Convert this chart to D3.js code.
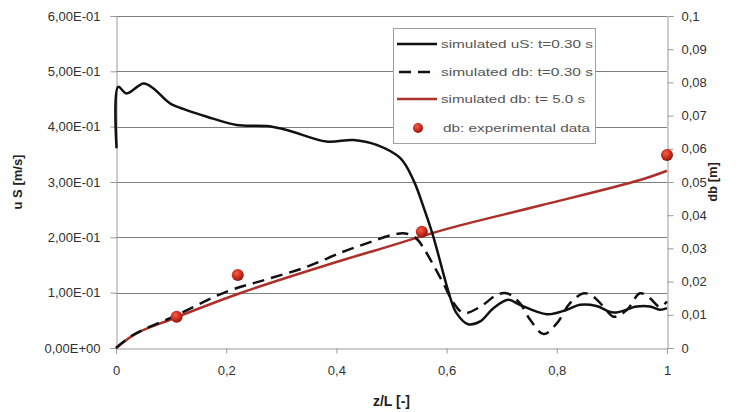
<!DOCTYPE html>
<html>
<head>
<meta charset="utf-8">
<title>uS and db along z/L</title>
<script src="https://cdn.jsdelivr.net/npm/d3@7"></script>
<style>
  body { margin: 0; background: #fff; }
  svg text { font-family: Arial, "Liberation Sans", sans-serif; }
</style>
</head>
<body>
<script>

// data
var us_z   = [0.001, 0.004, 0.019, 0.050, 0.068, 0.098, 0.128, 0.165, 0.219, 0.274, 0.310, 0.382, 0.431, 0.473, 0.516, 0.540, 0.558, 0.576, 0.594, 0.606, 0.618, 0.639, 0.661, 0.685, 0.712, 0.733, 0.782, 0.818, 0.842, 0.872, 0.903, 0.945, 0.969, 0.987, 1.0];
var us_val = [0.361, 0.472, 0.460, 0.478, 0.469, 0.442, 0.430, 0.418, 0.403, 0.401, 0.394, 0.373, 0.376, 0.367, 0.343, 0.303, 0.255, 0.201, 0.135, 0.093, 0.063, 0.043, 0.048, 0.072, 0.087, 0.078, 0.061, 0.069, 0.078, 0.076, 0.064, 0.075, 0.075, 0.069, 0.072];

var db30_z   = [0, 0.031, 0.110, 0.201, 0.274, 0.347, 0.412, 0.460, 0.500, 0.525, 0.545, 0.560, 0.576, 0.594, 0.613, 0.631, 0.661, 0.691, 0.709, 0.733, 0.752, 0.776, 0.800, 0.824, 0.849, 0.866, 0.885, 0.903, 0.927, 0.951, 0.969, 0.987, 1.0];
var db30_val = [0, 0.0039, 0.0099, 0.0170, 0.0207, 0.0245, 0.0290, 0.0318, 0.0340, 0.0345, 0.0330, 0.0296, 0.0250, 0.0195, 0.0135, 0.0105, 0.0124, 0.0160, 0.0165, 0.0135, 0.0084, 0.0042, 0.0074, 0.0135, 0.0165, 0.0155, 0.0124, 0.0094, 0.0114, 0.0165, 0.0150, 0.0124, 0.0140];

var db5_z   = [0, 0.037, 0.098, 0.225, 0.412, 0.469, 0.606, 0.770, 0.951, 1.0];
var db5_val = [0, 0.0044, 0.0085, 0.0165, 0.0265, 0.0293, 0.0361, 0.0429, 0.0506, 0.0534];

var exp_z   = [0.110, 0.221, 0.555, 1.0];
var exp_val = [0.0094, 0.0220, 0.0350, 0.0581];

var x_ticks = [0, 0.2, 0.4, 0.6, 0.8, 1];
var x_labels = ["0", "0,2", "0,4", "0,6", "0,8", "1"];
var left_ticks = [0, 0.1, 0.2, 0.3, 0.4, 0.5, 0.6];
var left_labels = ["0,00E+00", "1,00E-01", "2,00E-01", "3,00E-01", "4,00E-01", "5,00E-01", "6,00E-01"];
var right_ticks = [0, 0.01, 0.02, 0.03, 0.04, 0.05, 0.06, 0.07, 0.08, 0.09, 0.1];
var right_labels = ["0", "0,01", "0,02", "0,03", "0,04", "0,05", "0,06", "0,07", "0,08", "0,09", "0,1"];

var legend_names = ["simulated uS: t=0.30 s", "simulated db: t=0.30 s", "simulated db: t= 5.0 s", "db: experimental data"];

// layout
var W = 739, H = 412;
var margin = {left: 116, right: 72, top: 16, bottom: 64};
var GRID = "#808080";
var AXIS = "#9a9a9a";
var RED = "#ad2f2a";
var DASH = "12,7";

var svg = d3.select("body").append("svg")
  .attr("width", W)
  .attr("height", H);

var x = d3.scaleLinear().domain([0, 1]).range([margin.left, W - margin.right]);
var yL = d3.scaleLinear().domain([0, 0.6]).range([H - margin.bottom, margin.top]);
var yR = d3.scaleLinear().domain([0, 0.1]).range([H - margin.bottom, margin.top]);

var defs = svg.append("defs");
var grad = defs.append("radialGradient").attr("id", "dotgrad")
  .attr("cx", "40%").attr("cy", "35%").attr("r", "65%");
grad.append("stop").attr("offset", "0%").attr("stop-color", "#f0604a");
grad.append("stop").attr("offset", "60%").attr("stop-color", "#cc2a1c");
grad.append("stop").attr("offset", "100%").attr("stop-color", "#8a1810");

// gridlines
svg.append("g").selectAll("line")
  .data(left_ticks.slice(1))
  .enter().append("line")
  .attr("x1", x(0)).attr("x2", x(1))
  .attr("y1", function(d) { return Math.round(yL(d)) + 0.5; })
  .attr("y2", function(d) { return Math.round(yL(d)) + 0.5; })
  .attr("stroke", GRID).attr("stroke-width", 1);

// left axis
var axL = svg.append("g")
  .attr("transform", "translate(" + (margin.left + 0.5) + ",0)")
  .call(d3.axisLeft(yL).tickValues(left_ticks).tickSize(6).tickPadding(10)
    .tickFormat(function(d, i) { return left_labels[i]; }));
axL.selectAll("line, path").attr("stroke", AXIS);
axL.selectAll("text").attr("font-size", 13).attr("fill", "#303030");

// right axis
var axR = svg.append("g")
  .attr("transform", "translate(" + (W - margin.right + 0.5) + ",0)")
  .call(d3.axisRight(yR).tickValues(right_ticks).tickSize(6).tickPadding(8)
    .tickFormat(function(d, i) { return right_labels[i]; }));
axR.selectAll("line, path").attr("stroke", AXIS);
axR.selectAll("text").attr("font-size", 13).attr("fill", "#303030");

// bottom axis
var axB = svg.append("g")
  .attr("transform", "translate(0," + (H - margin.bottom + 0.5) + ")")
  .call(d3.axisBottom(x).tickValues(x_ticks).tickSize(5).tickPadding(12)
    .tickFormat(function(d, i) { return x_labels[i]; }));
axB.selectAll("line, path").attr("stroke", AXIS);
axB.selectAll("text").attr("font-size", 13).attr("fill", "#303030")
  .attr("font-family", "'Open Sans', sans-serif");

// axis titles
svg.append("text")
  .attr("transform", "translate(22," + ((margin.top + H - margin.bottom) / 2) + ") rotate(-90)")
  .attr("text-anchor", "middle")
  .attr("font-size", 13).attr("font-weight", "bold").attr("fill", "#222")
  .text("u S [m/s]");

svg.append("text")
  .attr("transform", "translate(717," + ((margin.top + H - margin.bottom) / 2) + ") rotate(-90)")
  .attr("text-anchor", "middle")
  .attr("font-size", 13).attr("font-weight", "bold").attr("fill", "#222")
  .text("db  [m]");

svg.append("text")
  .attr("x", (x(0) + x(1)) / 2)
  .attr("y", 406)
  .attr("text-anchor", "middle")
  .attr("font-size", 14).attr("font-weight", "bold").attr("fill", "#222")
  .text("z/L [-]");

// series
var curve = d3.curveCatmullRom.alpha(0.5);

var lineL = d3.line().curve(curve)
  .x(function(d) { return x(d[0]); })
  .y(function(d) { return yL(d[1]); });
var lineR = d3.line().curve(curve)
  .x(function(d) { return x(d[0]); })
  .y(function(d) { return yR(d[1]); });

var db5 = db5_z.map(function(z, i) { return [z, db5_val[i]]; });
var db30 = db30_z.map(function(z, i) { return [z, db30_val[i]]; });
var us = us_z.map(function(z, i) { return [z, us_val[i]]; });

svg.append("path").datum(db5)
  .attr("d", lineR).attr("fill", "none")
  .attr("stroke", RED).attr("stroke-width", 2.5);

svg.append("path").datum(db30)
  .attr("d", lineR).attr("fill", "none")
  .attr("stroke", "#111").attr("stroke-width", 2.5)
  .attr("stroke-dasharray", DASH);

svg.append("path").datum(us)
  .attr("d", lineL).attr("fill", "none")
  .attr("stroke", "#111").attr("stroke-width", 2.5);

svg.append("g").selectAll("circle")
  .data(exp_z)
  .enter().append("circle")
  .attr("cx", function(d) { return x(d); })
  .attr("cy", function(d, i) { return yR(exp_val[i]); })
  .attr("r", 6)
  .attr("fill", "url(#dotgrad)");

// legend
var leg = svg.append("g").attr("transform", "translate(393,28)");
leg.append("rect")
  .attr("x", 0.5).attr("y", 0.5)
  .attr("width", 202).attr("height", 115)
  .attr("fill", "#fff").attr("stroke", "#a0a0a0");

var legY = [16, 44, 71, 100];
var legText = [152, 152, 144, 147];
legend_names.forEach(function(name, i) {
  var g = leg.append("g").attr("transform", "translate(0," + legY[i] + ")");
  if (i < 3) {
    var ln = g.append("line")
      .attr("x1", 4).attr("x2", 44).attr("y1", 0).attr("y2", 0)
      .attr("stroke-width", 2.5)
      .attr("stroke", i == 2 ? RED : "#111");
    if (i == 1) ln.attr("stroke-dasharray", DASH).attr("stroke-dashoffset", -2);
  } else {
    g.append("circle").attr("cx", 25).attr("cy", 0).attr("r", 5)
      .attr("fill", "url(#dotgrad)");
  }
  g.append("text")
    .attr("x", i == 3 ? 50 : 48).attr("y", 4)
    .attr("font-size", 11.5).attr("fill", "#555")
    .attr("textLength", legText[i]).attr("lengthAdjust", "spacingAndGlyphs")
    .text(name);
});

</script>
</body>
</html>
